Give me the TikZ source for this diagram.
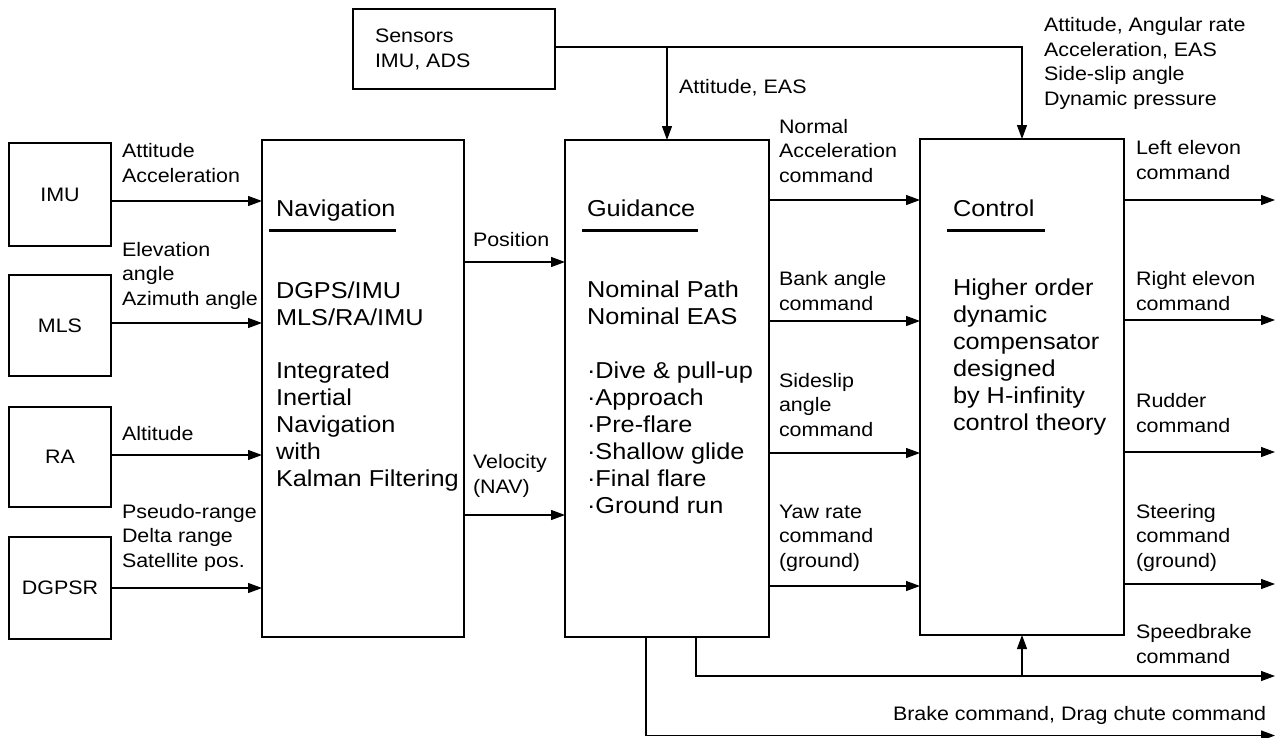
\documentclass[tikz,border=0pt]{standalone}
\usepackage{fontspec}
\setmainfont{Liberation Sans}[FakeStretch=1.1]
\usetikzlibrary{arrows.meta}

\begin{document}
\begin{tikzpicture}[x=1pt,y=-1pt,line cap=rect,
	box/.style={draw,line width=1.2pt,inner sep=0,outer sep=0,font=\lblfont},
	wire/.style={line width=1.2pt},
	arr/.style={wire,-{Triangle[length=14pt,width=10pt]}},
	lbl/.style={inner sep=0,outer sep=0,anchor=base west,align=left,font=\lblfont},
	txt/.style={lbl,font=\txtfont},
	bar/.style={line width=3pt,line cap=butt}]
	\def\lblfont{\fontsize{19.5pt}{24.5pt}\selectfont} % side labels
	\def\txtfont{\fontsize{23pt}{27pt}\selectfont} % text inside the big blocks
	\useasboundingbox (0,0) rectangle (1276,737);
	\coordinate (rim) at (1275,0);
	% blocks
	\node[box,minimum width=202pt,minimum height=80pt] (sensors) at (454,49) {};
	\node[box,minimum width=102pt,minimum height=103pt] (imu) at (60,194.5) {IMU};
	\node[box,minimum width=102pt,minimum height=101pt] (mls) at (60,325.5) {MLS};
	\node[box,minimum width=102pt,minimum height=100pt] (ra) at (60,457) {RA};
	\node[box,minimum width=102pt,minimum height=102pt] (dgpsr) at (60,588) {DGPSR};
	\node[box,minimum width=202pt,minimum height=497pt] (nav) at (363,388.5) {};
	\node[box,minimum width=204pt,minimum height=497pt] (guid) at (667,388.5) {};
	\node[box,minimum width=204pt,minimum height=496pt] (ctrl) at (1022,387) {};
	% block texts (base = last line)
	\node[lbl] (senstxt) at (375,67) {Sensors\\IMU, ADS};
	\node[txt] (navhd) at (276,216) {Navigation};
	\draw[bar] (269,230) -- (396,230);
	\node[txt] (navmode) at (276,325) {DGPS/IMU\\MLS/RA/IMU};
	\node[txt] (navtxt) at (276,486) {Integrated\\Inertial\\Navigation\\with\\Kalman Filtering};
	\node[txt] (guidhd) at (587,216) {Guidance};
	\draw[bar] (582,230) -- (698,230);
	\node[txt] (guidnom) at (587,324) {Nominal Path\\Nominal EAS};
	\node[txt] (guidph) at (587,513) {·Dive \& pull-up\\·Approach\\·Pre-flare\\·Shallow glide\\·Final flare\\·Ground run};
	\node[txt] (ctrlhd) at (953,216) {Control};
	\draw[bar] (947,230) -- (1045,230);
	\node[txt] (ctrltxt) at (953,430) {Higher order\\dynamic\\compensator\\designed\\by H-infinity\\control theory};
	% sensor bus
	\coordinate (gtap) at (guid.north |- 0,47);
	\draw[arr] (sensors.east |- 0,47) -| (ctrl.north);
	\draw[arr] (gtap) -- (guid.north);
	\node[lbl] (l-ge) at (679,93) {Attitude, EAS};
	\node[lbl] (l-ce) at (1044,105) {Attitude, Angular rate\\Acceleration, EAS\\Side-slip angle\\Dynamic pressure};
	% sensors to navigation
	\draw[arr] (imu.east |- 0,201) -- (nav.west |- 0,201);
	\node[lbl] (l-imu) at (122,182) {Attitude\\Acceleration};
	\draw[arr] (mls.east |- 0,323) -- (nav.west |- 0,323);
	\node[lbl] (l-mls) at (122,305) {Elevation\\angle\\Azimuth angle};
	\draw[arr] (ra.east |- 0,455) -- (nav.west |- 0,455);
	\node[lbl] (l-ra) at (122,440) {Altitude};
	\draw[arr] (dgpsr.east |- 0,588) -- (nav.west |- 0,588);
	\node[lbl] (l-gps) at (122,567) {Pseudo-range\\Delta range\\Satellite pos.};
	% navigation to guidance
	\draw[arr] (nav.east |- 0,262) -- (guid.west |- 0,262);
	\node[lbl] (l-pos) at (473,246) {Position};
	\draw[arr] (nav.east |- 0,515) -- (guid.west |- 0,515);
	\node[lbl] (l-vel) at (473,493) {Velocity\\(NAV)};
	% guidance to control
	\draw[arr] (guid.east |- 0,200) -- (ctrl.west |- 0,200);
	\node[lbl] (l-nz) at (779,182) {Normal\\Acceleration\\command};
	\draw[arr] (guid.east |- 0,321) -- (ctrl.west |- 0,321);
	\node[lbl] (l-bank) at (779,310) {Bank angle\\command};
	\draw[arr] (guid.east |- 0,453) -- (ctrl.west |- 0,453);
	\node[lbl] (l-beta) at (779,436) {Sideslip\\angle\\command};
	\draw[arr] (guid.east |- 0,586) -- (ctrl.west |- 0,586);
	\node[lbl] (l-yaw) at (779,567) {Yaw rate\\command\\(ground)};
	% control outputs
	\draw[arr] (ctrl.east |- 0,200) -- (rim |- 0,200);
	\node[lbl] (l-le) at (1136,179) {Left elevon\\command};
	\draw[arr] (ctrl.east |- 0,320) -- (rim |- 0,320);
	\node[lbl] (l-re) at (1136,310) {Right elevon\\command};
	\draw[arr] (ctrl.east |- 0,452) -- (rim |- 0,452);
	\node[lbl] (l-rud) at (1136,432) {Rudder\\command};
	\draw[arr] (ctrl.east |- 0,584) -- (rim |- 0,584);
	\node[lbl] (l-str) at (1136,567) {Steering\\command\\(ground)};
	% speedbrake and brake
	\draw[arr] (guid.south -| 696,0) |- (rim |- 0,676);
	\draw[arr] (ctrl.south |- 0,676) -- (ctrl.south);
	\node[lbl] (l-sb) at (1136,663) {Speedbrake\\command};
	\draw[arr] (guid.south -| 646,0) |- (rim |- 0,735.5);
	\node[lbl] (l-brk) at (893,720) {Brake command, Drag chute command};
\end{tikzpicture}
\end{document}
